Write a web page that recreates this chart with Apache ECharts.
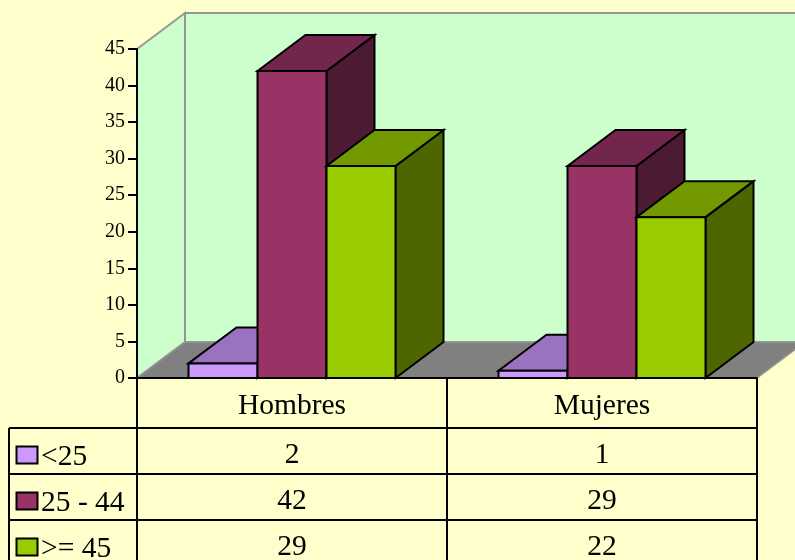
<!DOCTYPE html>
<html><head><meta charset="utf-8">
<style>html,body{margin:0;padding:0;background:#FFFFCC}#c{width:795px;height:560px}</style>
<script src="https://cdn.jsdelivr.net/npm/echarts@6/dist/echarts.min.js"></script>
</head><body><div id="c"></div>
<script>
const categories = ['Hombres', 'Mujeres'];
const seriesNames = ['<25', '25 - 44', '>= 45'];
const under25 = [2, 1];
const from25to44 = [42, 29];
const over45 = [29, 22];
const yTicks = {min: 0, max: 45, interval: 5};

const FONT = '"Liberation Serif","Times New Roman",serif';
const DX = 48, DY = -36, BAR_RATIO = 69 / 310;
const ROW_Y = [455, 501, 547];
const ROW_LINES = [428, 474, 520];
const TABLE_LEFT = 9, TABLE_BOTTOM = 561, SW_X = 16.5, SW_W = 21, SW_H = 17, LABEL_X = 41;
const faces = [
  {front: '#CC99FF', top: '#9973BF', side: '#664C80'},
  {front: '#993366', top: '#73264D', side: '#4D1A33'},
  {front: '#99CC00', top: '#739900', side: '#4D6600'}
];
const LW = 2;
const poly = (pts, fill, stroke, lw) => ({type: 'polygon', shape: {points: pts},
  style: {fill: fill, stroke: stroke, lineWidth: lw, lineJoin: 'miter'}});
const line = (a, b, w) => ({type: 'line', shape: {x1: a[0], y1: a[1], x2: b[0], y2: b[1]},
  style: {stroke: '#000', lineWidth: w}});
const txt = (x, y, s, align) => ({type: 'text', x: x, y: y,
  style: {text: String(s), font: '29.5px ' + FONT, fill: '#000', align: align, verticalAlign: 'middle'}});

function renderWalls(params, api) {
  const band = api.size([1, 0])[0];
  const lb = api.coord([0, yTicks.min]), lt = api.coord([0, yTicks.max]), rb = api.coord([categories.length - 1, yTicks.min]);
  const xL = lb[0] - band / 2, xR = rb[0] + band / 2, y0 = lb[1], yT = lt[1];
  const wall = '#969696';
  return {type: 'group', children: [
    poly([[xL + DX, yT + DY], [xR + DX, yT + DY], [xR + DX, y0 + DY], [xL + DX, y0 + DY]], '#CCFFCC', wall, 2),
    poly([[xL, yT], [xL + DX, yT + DY], [xL + DX, y0 + DY], [xL, y0]], '#CCFFCC', wall, 2),
    poly([[xL, y0], [xL + DX, y0 + DY], [xR + DX, y0 + DY], [xR, y0]], '#808080', wall, 1.5)
  ]};
}
function barRenderer(i) {
  return function (params, api) {
    const cat = api.value(0), val = api.value(1);
    const band = api.size([1, 0])[0], w = band * BAR_RATIO;
    const base = api.coord([cat, 0]), top = api.coord([cat, val]);
    const x0 = base[0] - 1.5 * w + i * w, x1 = x0 + w, y0 = base[1], y1 = top[1];
    const f = faces[i];
    return {type: 'group', children: [
      poly([[x1, y0], [x1 + DX, y0 + DY], [x1 + DX, y1 + DY], [x1, y1]], f.side, '#000', LW),
      poly([[x0, y1], [x0 + DX, y1 + DY], [x1 + DX, y1 + DY], [x1, y1]], f.top, '#000', LW),
      poly([[x0, y0], [x1, y0], [x1, y1], [x0, y1]], f.front, '#000', LW)
    ]};
  };
}
function renderTable(params, api) {
  const band = api.size([1, 0])[0];
  const lb = api.coord([0, 0]), rb = api.coord([categories.length - 1, 0]);
  const xL = lb[0] - band / 2, xR = rb[0] + band / 2, y0 = lb[1];
  const ch = [];
  ROW_LINES.forEach(y => ch.push(line([TABLE_LEFT, y], [xR, y], LW)));
  ch.push(line([TABLE_LEFT, ROW_LINES[0]], [TABLE_LEFT, TABLE_BOTTOM], LW));
  ch.push(line([xL, y0], [xL, TABLE_BOTTOM], LW));
  categories.forEach((c, k) => {
    const x = api.coord([k, 0])[0] + band / 2;
    ch.push(line([x, y0], [x, TABLE_BOTTOM], LW));
  });
  const rows = [under25, from25to44, over45];
  rows.forEach((vals, r) => {
    const y = ROW_Y[r];
    ch.push({type: 'rect', shape: {x: SW_X, y: y - SW_H / 2, width: SW_W, height: SW_H},
      style: {fill: faces[r].front, stroke: '#000', lineWidth: LW}});
    ch.push(txt(LABEL_X, y + 2, seriesNames[r], 'left'));
    vals.forEach((v, k) => ch.push(txt(api.coord([k, 0])[0], y, v, 'center')));
  });
  return {type: 'group', children: ch};
}
const barData = vals => vals.map((v, k) => [k, v]);
const chart = echarts.init(document.getElementById('c'), null, {renderer: 'canvas'});
chart.setOption({
  animation: false,
  backgroundColor: '#FFFFCC',
  grid: {left: 137, right: 38, top: 49, bottom: 182},
  xAxis: {type: 'category', data: categories, z: 10,
    axisLine: {lineStyle: {color: '#000', width: 2}}, axisTick: {show: false},
    axisLabel: {color: '#000', fontFamily: FONT, fontSize: 29.5, margin: 13}},
  yAxis: {type: 'value', min: yTicks.min, max: yTicks.max, interval: yTicks.interval, z: 10,
    axisLine: {show: true, lineStyle: {color: '#000', width: 2}},
    axisTick: {show: true, length: 9, lineStyle: {color: '#000', width: 2}},
    splitLine: {show: false},
    axisLabel: {color: '#000', fontFamily: FONT, fontSize: 20, margin: 12}},
  series: [
    {type: 'custom', name: 'walls', coordinateSystem: 'cartesian2d', clip: false, z: 1, silent: true,
      renderItem: renderWalls, data: [[0, 0]]},
    {type: 'custom', name: seriesNames[0], clip: false, z: 2, renderItem: barRenderer(0), data: barData(under25)},
    {type: 'custom', name: seriesNames[1], clip: false, z: 3, renderItem: barRenderer(1), data: barData(from25to44)},
    {type: 'custom', name: seriesNames[2], clip: false, z: 4, renderItem: barRenderer(2), data: barData(over45)},
    {type: 'custom', name: 'table', clip: false, z: 5, silent: true, renderItem: renderTable, data: [[0, 0]]}
  ]
});
</script></body></html>
